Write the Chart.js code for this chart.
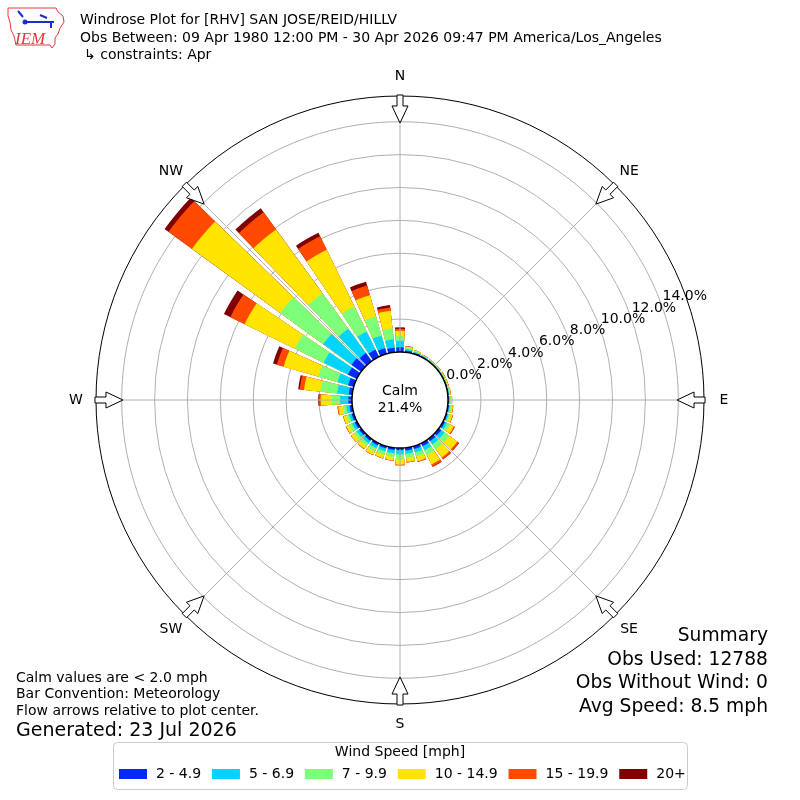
<!DOCTYPE html>
<html>
<head>
<meta charset="utf-8">
<title>Windrose Plot for [RHV] SAN JOSE/REID/HILLV</title>
<script src="https://cdn.jsdelivr.net/npm/chart.js@4.4.1/dist/chart.umd.min.js"></script>
<style>
    body { margin: 0; background: #fff; }
    #wrap { position: relative; width: 800px; height: 800px; font-family: "DejaVu Sans", sans-serif; color: #000; }
    #rose { position: absolute; left: 0; top: 0; }
    .txt { position: absolute; white-space: nowrap; line-height: 1; }
    .right { text-align: right; }
</style>
</head>
<body>
<div id="wrap">
    <canvas id="rose" width="800" height="800"></canvas>
    <div class="txt" style="left:80px; top:12px; font-size:14px;">Windrose Plot for [RHV] SAN JOSE/REID/HILLV</div>
    <div class="txt" style="left:80px; top:30px; font-size:14px;">Obs Between: 09 Apr 1980 12:00 PM - 30 Apr 2026 09:47 PM America/Los_Angeles</div>
    <div class="txt" style="left:84px; top:47px; font-size:14px;">&#8627; constraints: Apr</div>

    <div class="txt" style="left:16px; top:670px; font-size:14px;">Calm values are &lt; 2.0 mph</div>
    <div class="txt" style="left:16px; top:686px; font-size:14px;">Bar Convention: Meteorology</div>
    <div class="txt" style="left:16px; top:703px; font-size:14px;">Flow arrows relative to plot center.</div>
    <div class="txt" style="left:16px; top:720px; font-size:19px;">Generated: 23 Jul 2026</div>

    <div class="txt right" style="right:32px; top:626px; font-size:18.7px;">Summary</div>
    <div class="txt right" style="right:32px; top:650px; font-size:18.7px;">Obs Used: 12788</div>
    <div class="txt right" style="right:32px; top:673px; font-size:18.7px;">Obs Without Wind: 0</div>
    <div class="txt right" style="right:32px; top:697px; font-size:18.7px;">Avg Speed: 8.5 mph</div>
</div>
<script>
// wind direction sectors (deg, meteorological) and frequency (%) per speed bin
var directions = [0, 10, 20, 30, 40, 50, 60, 70, 80, 90, 100, 110, 120, 130, 140, 150, 160, 170,
                  180, 190, 200, 210, 220, 230, 240, 250, 260, 270, 280, 290, 300, 310, 320, 330, 340, 350];
var speedBins = ["2 - 4.9", "5 - 6.9", "7 - 9.9", "10 - 14.9", "15 - 19.9", "20+"];
var binColors = ["#0028ff", "#00d4ff", "#7dff7a", "#ffe500", "#ff4a00", "#800000"];

var freq2to5   = [0.28, 0.10, 0.07, 0.05, 0.04, 0.04, 0.04, 0.04, 0.05, 0.06, 0.07, 0.08, 0.12, 0.18, 0.18, 0.20, 0.18, 0.17,
                  0.13, 0.14, 0.14, 0.15, 0.15, 0.15, 0.15, 0.14, 0.16, 0.22, 0.21, 0.36, 0.60, 0.73, 0.61, 0.49, 0.36, 0.27];
var freq5to7   = [0.40, 0.10, 0.06, 0.04, 0.04, 0.04, 0.04, 0.04, 0.04, 0.05, 0.07, 0.08, 0.14, 0.25, 0.25, 0.27, 0.22, 0.20,
                  0.26, 0.20, 0.19, 0.20, 0.19, 0.19, 0.18, 0.16, 0.20, 0.50, 0.70, 0.67, 1.64, 2.13, 1.82, 1.22, 0.79, 0.52];
var freq7to10  = [0.29, 0.08, 0.05, 0.03, 0.03, 0.04, 0.04, 0.04, 0.04, 0.06, 0.08, 0.10, 0.18, 0.35, 0.35, 0.35, 0.26, 0.24,
                  0.30, 0.22, 0.21, 0.22, 0.20, 0.20, 0.19, 0.17, 0.22, 0.50, 1.03, 1.22, 1.95, 3.22, 2.67, 1.70, 1.22, 0.67];
var freq10to15 = [0.32, 0.07, 0.05, 0.03, 0.03, 0.03, 0.04, 0.04, 0.05, 0.07, 0.10, 0.14, 0.28, 0.60, 0.62, 0.62, 0.30, 0.26,
                  0.32, 0.22, 0.22, 0.23, 0.22, 0.22, 0.21, 0.19, 0.28, 0.68, 1.00, 2.19, 3.40, 6.63, 4.80, 3.83, 1.34, 1.07];
var freq15to20 = [0.12, 0.02, 0.01, 0.01, 0.00, 0.00, 0.01, 0.01, 0.01, 0.01, 0.02, 0.03, 0.06, 0.12, 0.13, 0.14, 0.04, 0.03,
                  0.04, 0.02, 0.02, 0.02, 0.02, 0.02, 0.02, 0.02, 0.04, 0.10, 0.27, 0.43, 0.97, 1.76, 1.28, 0.91, 0.61, 0.20];
var freq20up   = [0.09, 0.01, 0.00, 0.00, 0.00, 0.00, 0.00, 0.00, 0.00, 0.00, 0.00, 0.00, 0.01, 0.02, 0.02, 0.03, 0.00, 0.00,
                  0.00, 0.00, 0.00, 0.00, 0.00, 0.00, 0.00, 0.00, 0.00, 0.05, 0.09, 0.24, 0.43, 0.30, 0.30, 0.24, 0.24, 0.15];

var ringTicks = [0, 2, 4, 6, 8, 10, 12, 14];
var compassNames = ["N", "NE", "E", "SE", "S", "SW", "W", "NW"];
var calmPct = 21.4;

var RMIN = -2.92;   // puts 0% on the edge of the calm circle
var RMAX = 15.56;
var BAR_WIDTH = 8;  // degrees, rest of the 10 deg sector is a gap

var binSeries = [freq2to5, freq5to7, freq7to10, freq10to15, freq15to20, freq20up];

var labels = [];
directions.forEach(function(d) {
    labels.push(d + "\u00b0");
    labels.push("");
});

// stacked bars: each dataset holds the running total, smallest drawn on top
var datasets = [];
var running = directions.map(function() { return 0; });
for (var k = 0; k < binSeries.length; k++) {
    var series = binSeries[k];
    running = running.map(function(v, i) { return v + series[i]; });
    var data = [];
    var colors = [];
    running.forEach(function(v) {
        data.push(+v.toFixed(3));
        colors.push(binColors[k]);
        data.push(0);
        colors.push("rgba(0,0,0,0)");
    });
    datasets.push({
        label: speedBins[k],
        data: data,
        backgroundColor: colors,
        borderWidth: 0,
        angle: function(ctx) { return ctx.dataIndex % 2 === 0 ? BAR_WIDTH : 10 - BAR_WIDTH; }
    });
}

function drawArrow(ctx, cx, cy, deg, rTail, rNeck, rTip) {
    var a = deg * Math.PI / 180;
    var ux = Math.sin(a), uy = -Math.cos(a);
    var px = Math.cos(a), py = Math.sin(a);
    var pts = [[rTail, -3], [rNeck, -3], [rNeck, -8], [rTip, 0], [rNeck, 8], [rNeck, 3], [rTail, 3]];
    ctx.beginPath();
    pts.forEach(function(p, i) {
        var x = cx + ux * p[0] + px * p[1];
        var y = cy + uy * p[0] + py * p[1];
        if (i === 0) ctx.moveTo(x, y); else ctx.lineTo(x, y);
    });
    ctx.closePath();
    ctx.fillStyle = "#fff";
    ctx.fill();
    ctx.strokeStyle = "#000";
    ctx.lineWidth = 1;
    ctx.stroke();
}

function drawLogo(ctx) {
    ctx.save();
    ctx.strokeStyle = "#e8363c";
    ctx.lineWidth = 1;
    ctx.beginPath();
    ctx.moveTo(8, 8);
    ctx.lineTo(56, 8);
    ctx.lineTo(58, 12);
    ctx.lineTo(63, 16);
    ctx.lineTo(64, 22);
    ctx.lineTo(60, 28);
    ctx.lineTo(58, 34);
    ctx.lineTo(55, 38);
    ctx.lineTo(55, 44);
    ctx.lineTo(52, 48);
    ctx.lineTo(50, 45);
    ctx.lineTo(16, 45);
    ctx.lineTo(14, 36);
    ctx.lineTo(11, 30);
    ctx.lineTo(10, 22);
    ctx.lineTo(8, 16);
    ctx.closePath();
    ctx.stroke();
    ctx.fillStyle = "#e8363c";
    ctx.font = "italic 17px 'Liberation Serif', serif";
    ctx.textAlign = "left";
    ctx.textBaseline = "alphabetic";
    ctx.fillText("IEM", 15, 44);
    ctx.strokeStyle = "#1a2fd0";
    ctx.fillStyle = "#1a2fd0";
    ctx.lineWidth = 2;
    ctx.beginPath();
    ctx.moveTo(24, 22); ctx.lineTo(54, 22);
    ctx.moveTo(18, 11); ctx.lineTo(23, 17);
    ctx.moveTo(40, 15); ctx.lineTo(47, 18);
    ctx.moveTo(51, 22); ctx.lineTo(51, 28);
    ctx.stroke();
    ctx.beginPath();
    ctx.arc(25, 22, 2.5, 0, Math.PI * 2);
    ctx.fill();
    ctx.restore();
}

var roseDecor = {
    id: "roseDecor",
    afterDraw: function(chart) {
        var ctx = chart.ctx;
        var sc = chart.scales.r;
        var cx = sc.xCenter, cy = sc.yCenter, R = sc.drawingArea;
        var rCalm = sc.getDistanceFromCenterForValue(0);
        ctx.save();

        // spokes every 45 deg
        ctx.strokeStyle = "#b0b0b0";
        ctx.lineWidth = 1;
        for (var i = 0; i < 8; i++) {
            var a = i * 45 * Math.PI / 180;
            ctx.beginPath();
            ctx.moveTo(cx, cy);
            ctx.lineTo(cx + Math.sin(a) * R, cy - Math.cos(a) * R);
            ctx.stroke();
        }

        ctx.beginPath();
        ctx.arc(cx, cy, R, 0, Math.PI * 2);
        ctx.strokeStyle = "#000";
        ctx.lineWidth = 1;
        ctx.stroke();

        // calm circle
        ctx.beginPath();
        ctx.arc(cx, cy, rCalm, 0, Math.PI * 2);
        ctx.fillStyle = "#fff";
        ctx.fill();
        ctx.lineWidth = 1.5;
        ctx.stroke();
        ctx.fillStyle = "#000";
        ctx.font = "14px 'DejaVu Sans'";
        ctx.textAlign = "center";
        ctx.textBaseline = "middle";
        ctx.fillText("Calm", cx, cy - 9);
        ctx.fillText(calmPct.toFixed(1) + "%", cx, cy + 8);

        // ring labels
        var la = 70 * Math.PI / 180;
        ctx.textAlign = "left";
        ctx.textBaseline = "bottom";
        ringTicks.forEach(function(v) {
            var r = sc.getDistanceFromCenterForValue(v);
            ctx.fillText(v.toFixed(1) + "%", cx + Math.sin(la) * r + 1, cy - Math.cos(la) * r - 1);
        });

        // flow arrows and compass names
        ctx.textAlign = "center";
        ctx.textBaseline = "middle";
        for (var j = 0; j < 8; j++) {
            var deg = j * 45;
            drawArrow(ctx, cx, cy, deg, R + 1, R - 10, R - 27);
            var b = deg * Math.PI / 180;
            ctx.fillStyle = "#000";
            ctx.fillText(compassNames[j], cx + Math.sin(b) * (R + 20), cy - Math.cos(b) * (R + 20));
        }

        // legend
        ctx.fillStyle = "#fff";
        ctx.strokeStyle = "#cccccc";
        ctx.lineWidth = 1;
        ctx.beginPath();
        ctx.roundRect(113.5, 742.5, 574, 47, 4);
        ctx.fill();
        ctx.stroke();
        ctx.fillStyle = "#000";
        ctx.font = "14px 'DejaVu Sans'";
        ctx.fillText("Wind Speed [mph]", 400, 752);
        ctx.textAlign = "left";
        var x = 119;
        for (var m = 0; m < speedBins.length; m++) {
            ctx.fillStyle = binColors[m];
            ctx.fillRect(x, 769, 28, 10);
            ctx.fillStyle = "#000";
            ctx.fillText(speedBins[m], x + 37, 774);
            x += 37 + ctx.measureText(speedBins[m]).width + 10.8;
        }

        drawLogo(ctx);
        ctx.restore();
    }
};

var rose = new Chart(document.getElementById("rose"), {
    type: "polarArea",
    data: { labels: labels, datasets: datasets },
    options: {
        responsive: false,
        maintainAspectRatio: false,
        animation: false,
        layout: { padding: 96 },
        plugins: {
            legend: { display: false },
            tooltip: { enabled: false }
        },
        scales: {
            r: {
                type: "radialLinear",
                min: RMIN,
                max: RMAX,
                beginAtZero: false,
                startAngle: -BAR_WIDTH / 2,
                z: 1,
                ticks: { display: false },
                grid: { circular: true, color: "#b0b0b0", lineWidth: 1 },
                angleLines: { display: false },
                pointLabels: { display: false },
                afterBuildTicks: function(scale) {
                    scale.ticks = ringTicks.map(function(v) { return { value: v }; });
                }
            }
        }
    },
    plugins: [roseDecor]
});
</script>
</body>
</html>
